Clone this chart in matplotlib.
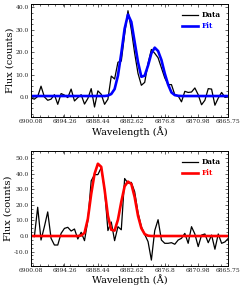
import numpy as np
import matplotlib
matplotlib.use("Agg")
import matplotlib.pyplot as plt
from matplotlib.ticker import FormatStrFormatter, AutoMinorLocator

# Wavelength grid (60 samples, 6900.08 -> 6865.75 A)
wavelength = np.linspace(6900.08, 6865.75, 60)
xticks = [6900.08, 6894.26, 6888.44, 6882.62, 6876.8, 6870.98, 6865.75]

data_top = [-0.5, -1.0, 0.2, 4.8, 0.0, -1.5, -1.0, 1.0, -3.3, 1.5,
            0.8, -0.3, 3.5, -1.8, -0.3, 1.0, -3.2, -0.7, 3.7, -4.5,
            2.7, 1.2, -3.3, -1.0, 9.3, 8.0, 15.5, 16.0, 28.0, 38.5,
            30.0, 19.5, 10.5, 5.2, 6.5, 15.0, 21.2, 19.5, 17.5, 13.0,
            8.5, 5.5, 5.5, 1.0, 0.5, -2.2, 2.5, 2.0, 2.2, 4.0,
            1.0, -3.5, -1.5, 3.7, 3.5, -3.7, -0.5, 2.0, -0.2, 0.3]
fit_top = [0.4, 0.4, 0.4, 0.4, 0.4, 0.4, 0.4, 0.4, 0.4, 0.4,
           0.4, 0.4, 0.4, 0.4, 0.4, 0.4, 0.4, 0.4, 0.4, 0.4,
           0.4, 0.4, 0.4, 0.6, 1.3, 3.5, 9.5, 19.5, 30.5, 36.8,
           33.5, 24.5, 15.5, 9.0, 9.5, 14.0, 19.5, 22.0, 20.5, 16.5,
           10.5, 5.5, 2.0, 0.8, 0.5, 0.4, 0.4, 0.4, 0.4, 0.4,
           0.4, 0.4, 0.4, 0.4, 0.4, 0.4, 0.4, 0.4, 0.4, 0.4]

data_bot = [0.5, -0.5, 18.5, -2.6, 6.0, 15.5, -1.5, -5.8, -5.8, 1.7,
            4.9, 5.6, 3.2, 4.5, -1.9, 2.4, -3.0, 10.0, 35.5, 39.5,
            39.5, 44.0, 30.0, 3.5, 9.0, -3.0, 6.0, 4.0, 37.0, 34.0,
            34.5, 28.5, 15.0, 6.0, 1.0, -3.6, -15.5, 3.5, 10.5, -2.6,
            -4.7, -4.7, -4.3, -5.3, -2.6, -1.5, 1.7, -4.7, 6.0, 1.3,
            -6.8, 0.6, 1.3, -4.3, 0.6, -8.5, 1.3, -4.7, -3.8, -1.5]
fit_bot = [0.0, 0.0, 0.0, 0.0, 0.0, 0.0, 0.0, 0.0, 0.0, 0.0,
           0.0, 0.0, 0.0, 0.0, 0.0, 0.3, 2.0, 11.0, 27.0, 40.0,
           46.5, 44.5, 30.0, 13.0, 4.0, 3.5, 10.5, 22.0, 32.0, 35.0,
           33.5, 25.0, 13.0, 5.0, 1.2, 0.2, 0.0, 0.0, 0.0, 0.0,
           0.0, 0.0, 0.0, 0.0, 0.0, 0.0, 0.0, 0.0, 0.0, 0.0,
           0.0, 0.0, 0.0, 0.0, 0.0, 0.0, 0.0, 0.0, 0.0, 0.0]

plt.rcParams['font.family'] = ['DejaVu Serif']

fig = plt.figure(figsize=(2.41, 2.91), dpi=100)
W, H = 241.0, 291.0
ax1 = fig.add_axes([31 / W, 1 - 117.3 / H, (228.3 - 31) / W, (117.3 - 4) / H])
ax2 = fig.add_axes([31 / W, 1 - 266 / H, (228.3 - 31) / W, (266 - 151) / H])

panels = [(ax1, data_top, fit_top, '#0000ff', (-9.1, 41.5), [0, 10, 20, 30, 40]),
          (ax2, data_bot, fit_bot, '#ff0000', (-19.3, 54.7), [-10, 0, 10, 20, 30, 40, 50])]

for ax, d, f, col, yl, yt in panels:
    ax.plot(wavelength, d, color='black', lw=0.9, label='Data')
    ax.plot(wavelength, f, color=col, lw=1.9, label='Fit')
    ax.set_xlim(6900.08, 6865.75)
    ax.set_ylim(*yl)
    ax.set_xticks(xticks)
    ax.set_xticklabels([str(t) for t in xticks])
    ax.set_yticks(yt)
    ax.yaxis.set_major_formatter(FormatStrFormatter('%.1f'))
    ax.xaxis.set_minor_locator(AutoMinorLocator(4))
    ax.yaxis.set_minor_locator(AutoMinorLocator(4))
    ax.tick_params(which='both', direction='in', top=True, right=True,
                   labelsize=4.3, pad=1.5, width=0.5, colors='#222222')
    ax.tick_params(which='major', length=2.5)
    ax.tick_params(which='minor', length=1.3)
    for s in ax.spines.values():
        s.set_linewidth(0.7)
    ax.set_xlabel('Wavelength (Å)', fontsize=7, labelpad=1)
    ax.set_ylabel('Flux (counts)', fontsize=7, labelpad=1)
    leg = ax.legend(loc='upper right', frameon=False, fontsize=5.3,
                    handlelength=2.2, handletextpad=0.5, labelspacing=0.4,
                    borderaxespad=0.6, labelcolor='linecolor',
                    prop={'weight': 'bold', 'size': 5.3})

fig.savefig('out.png', dpi=100)
